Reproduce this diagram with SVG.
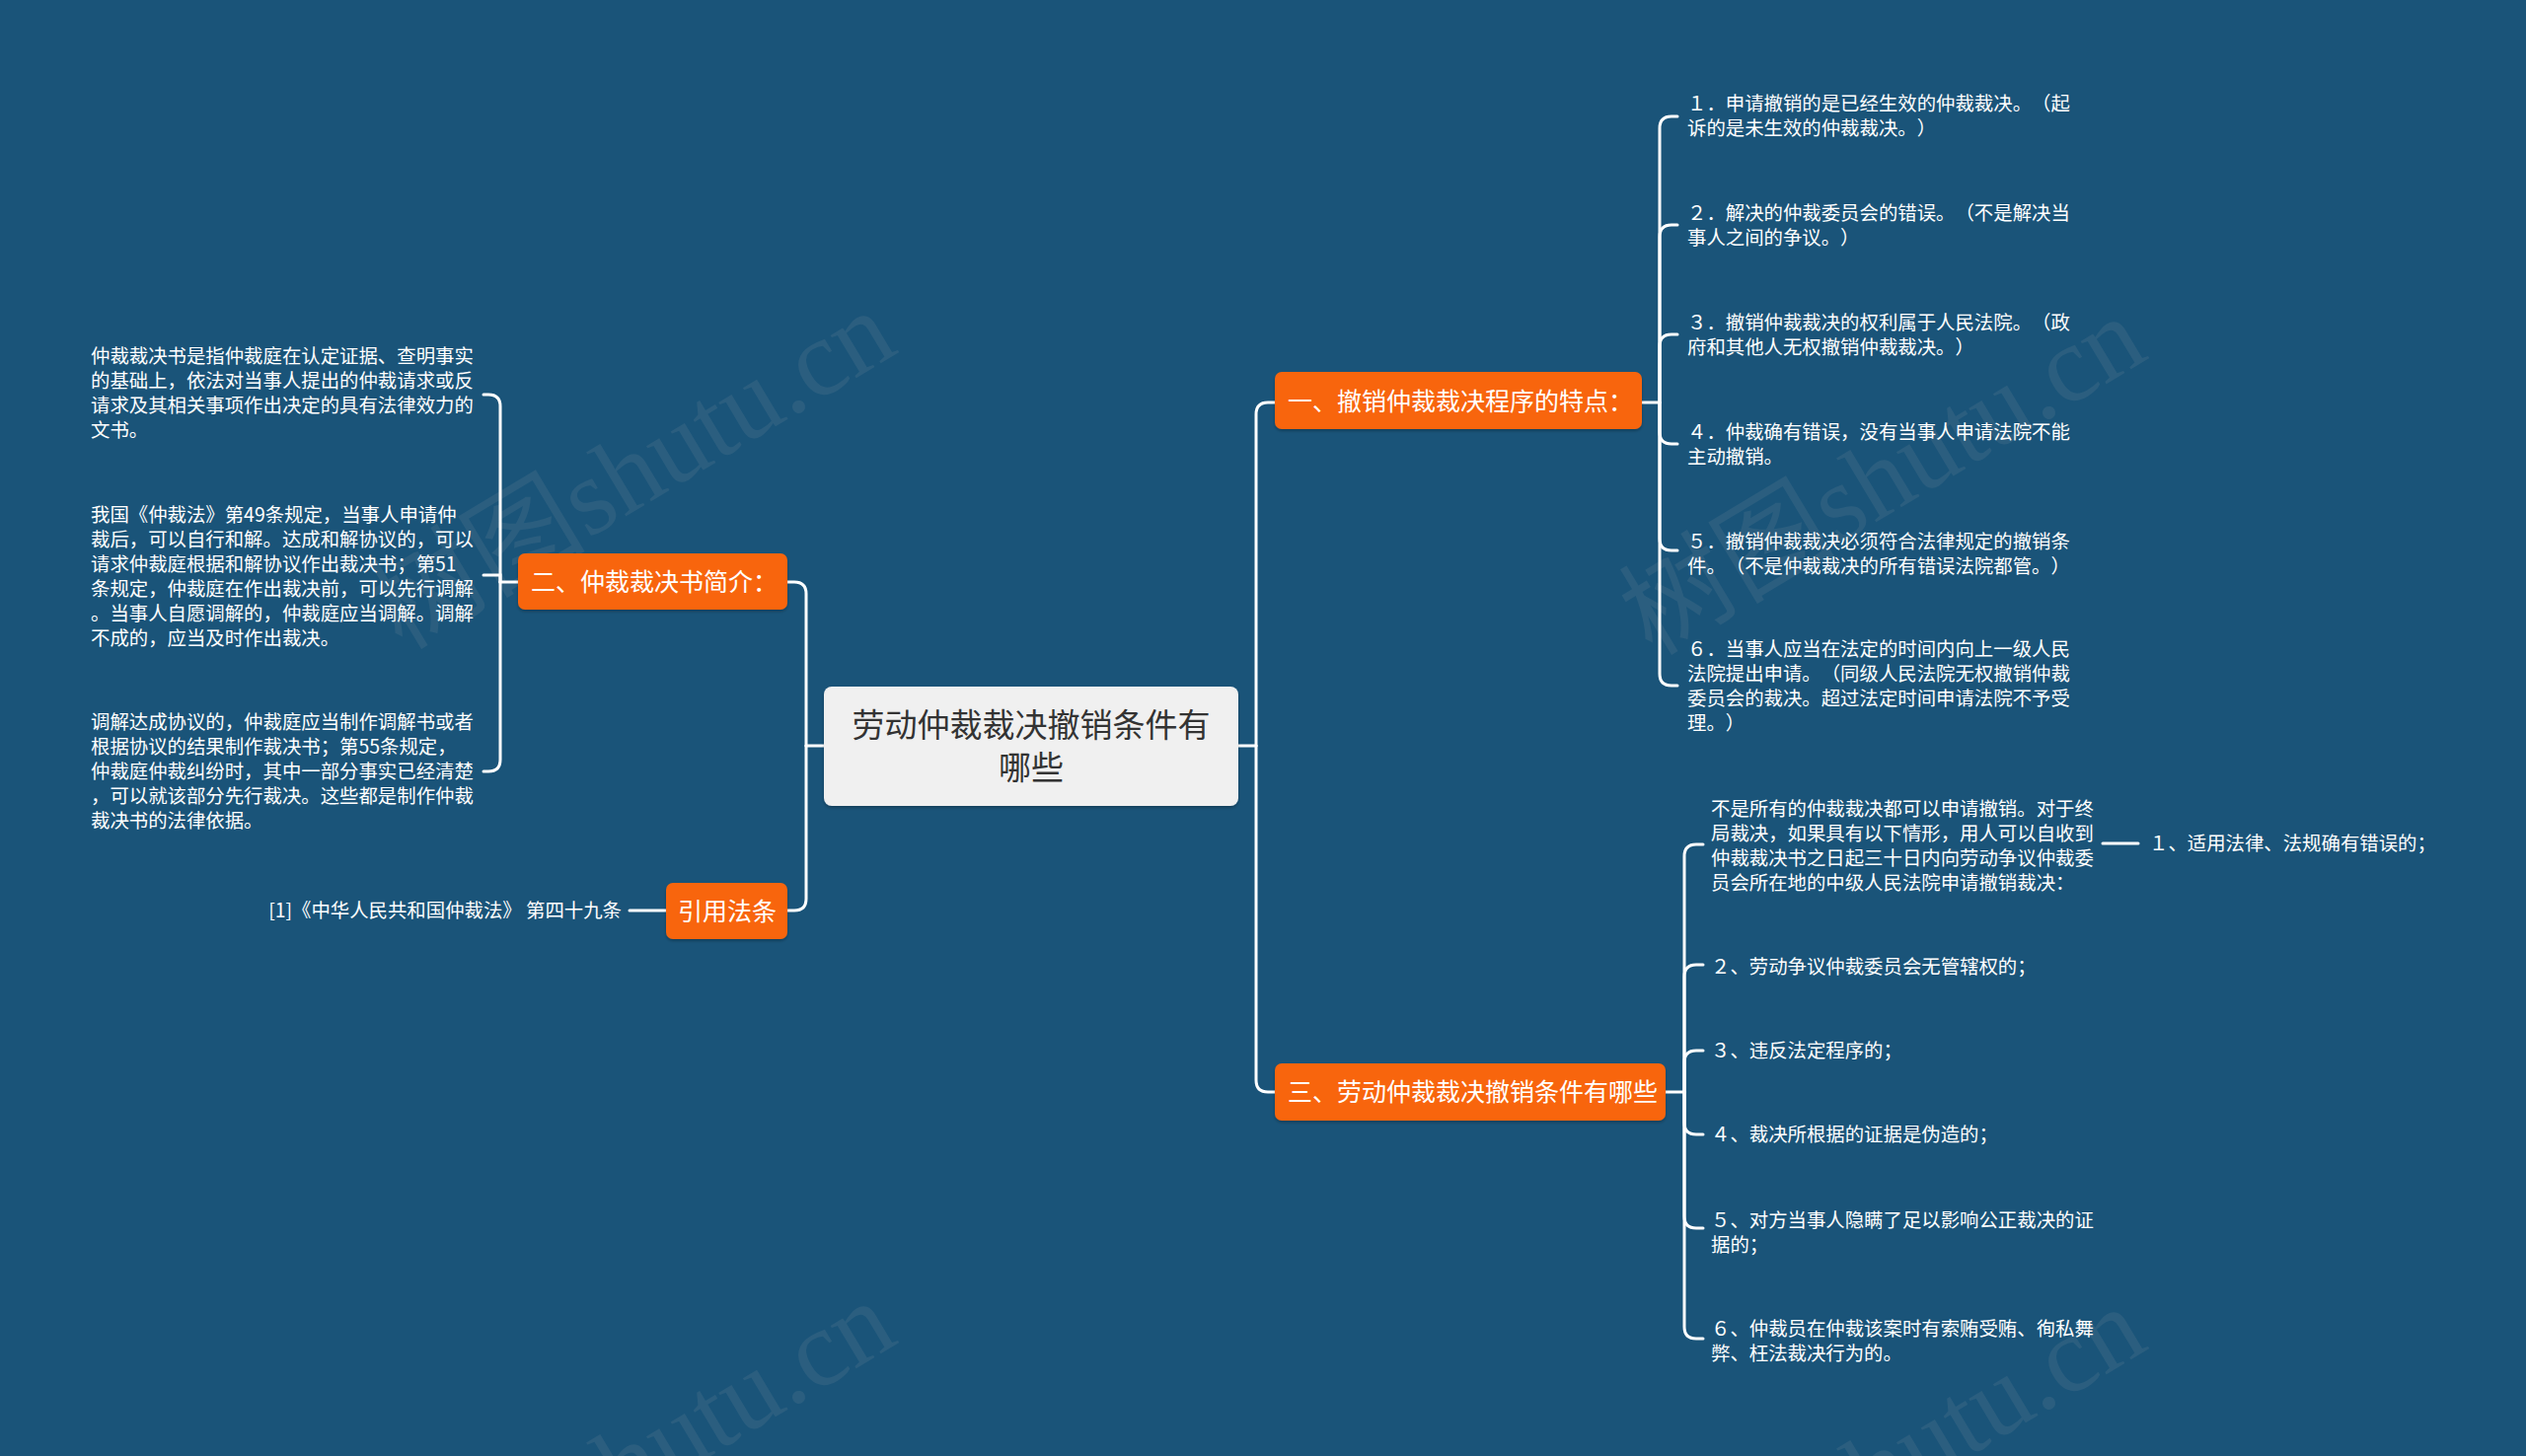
<svg xmlns="http://www.w3.org/2000/svg" width="2560" height="1476" viewBox="0 0 2560 1476">
<style>
text{text-spacing-trim:space-all}
.bg{fill:#1a5479}
.wm{font-family:"Liberation Serif","Noto Sans CJK SC",serif;font-size:110px;fill:#9aa3aa;opacity:0.13}
.ln{fill:none;stroke:#ffffff;stroke-width:3;stroke-linecap:round}
.box{fill:#f8650d}
.nt{font-family:"Noto Sans CJK SC","Noto Sans",sans-serif;font-size:25px;fill:#ffffff}
.ct{font-family:"Noto Sans CJK SC","Noto Sans",sans-serif;font-size:33px;fill:#333333;text-anchor:middle}
.lt{font-family:"Noto Sans CJK SC","Noto Sans",sans-serif;font-size:19.4px;fill:#ffffff}
</style>
<defs>
<filter id="sh" x="-10%" y="-10%" width="120%" height="130%">
<feDropShadow dx="0" dy="2" stdDeviation="1.5" flood-color="#000" flood-opacity="0.25"/>
</filter>
</defs>
<rect class="bg" x="0" y="0" width="2560" height="1476"/>
<g id="watermarks">
<text class="wm" transform="translate(660,508) rotate(-31)" text-anchor="middle">树图shutu.cn</text>
<text class="wm" transform="translate(1927,514) rotate(-31)" text-anchor="middle">树图shutu.cn</text>
<text class="wm" transform="translate(660,1512) rotate(-31)" text-anchor="middle">树图shutu.cn</text>
<text class="wm" transform="translate(1927,1518) rotate(-31)" text-anchor="middle">树图shutu.cn</text>
</g>
<g id="connectors">
<path class="ln" d="M1255,756 H1273"/>
<path class="ln" d="M1273,756 V420 Q1273,408 1285,408 H1292"/>
<path class="ln" d="M1273,756 V1095 Q1273,1107 1285,1107 H1292"/>
<path class="ln" d="M835,756 H817"/>
<path class="ln" d="M817,756 V602 Q817,590 805,590 H798"/>
<path class="ln" d="M817,756 V911 Q817,923 805,923 H798"/>
<path class="ln" d="M1664,408 H1682"/>
<path class="ln" d="M1682,408 V130 Q1682,118 1694,118 H1700"/>
<path class="ln" d="M1682,408 V240 Q1682,228 1694,228 H1700"/>
<path class="ln" d="M1682,408 V351 Q1682,339 1694,339 H1700"/>
<path class="ln" d="M1682,408 V438 Q1682,450 1694,450 H1700"/>
<path class="ln" d="M1682,408 V546 Q1682,558 1694,558 H1700"/>
<path class="ln" d="M1682,408 V683 Q1682,695 1694,695 H1700"/>
<path class="ln" d="M1688,1107 H1707"/>
<path class="ln" d="M1707,1107 V868 Q1707,856 1719,856 H1726"/>
<path class="ln" d="M1707,1107 V990 Q1707,978 1719,978 H1726"/>
<path class="ln" d="M1707,1107 V1077 Q1707,1065 1719,1065 H1726"/>
<path class="ln" d="M1707,1107 V1138 Q1707,1150 1719,1150 H1726"/>
<path class="ln" d="M1707,1107 V1233 Q1707,1245 1719,1245 H1726"/>
<path class="ln" d="M1707,1107 V1345 Q1707,1357 1719,1357 H1726"/>
<path class="ln" d="M2131,855 H2167"/>
<path class="ln" d="M525,590 H507"/>
<path class="ln" d="M507,590 V412 Q507,400 495,400 H490"/>
<path class="ln" d="M507,590 V583 H490"/>
<path class="ln" d="M507,590 V770 Q507,782 495,782 H490"/>
<path class="ln" d="M675,923 H638"/>
</g>
<g id="center">
<rect x="835" y="696" width="420" height="121" rx="8" fill="#f0f0f0" filter="url(#sh)"/>
<text class="ct" x="1045" y="747">劳动仲裁裁决撤销条件有</text>
<text class="ct" x="1045" y="790">哪些</text>
</g>
<g id="n1">
<rect class="box" x="1292" y="377" width="372" height="58" rx="7" filter="url(#sh)"/>
<text class="nt" x="1305" y="416">一、撤销仲裁裁决程序的特点：</text>
</g>
<g id="n3">
<rect class="box" x="1292" y="1078" width="396" height="58" rx="7" filter="url(#sh)"/>
<text class="nt" x="1305" y="1116">三、劳动仲裁裁决撤销条件有哪些</text>
</g>
<g id="n2">
<rect class="box" x="525" y="561" width="273" height="57" rx="7" filter="url(#sh)"/>
<text class="nt" x="538" y="599">二、仲裁裁决书简介：</text>
</g>
<g id="n4">
<rect class="box" x="675" y="895" width="123" height="57" rx="7" filter="url(#sh)"/>
<text class="nt" x="687" y="933">引用法条</text>
</g>
<g id="n1c1"><text class="lt" x="1710" y="112"><tspan x="1710">１．申请撤销的是已经生效的仲裁裁决。（起</tspan><tspan x="1710" dy="25">诉的是未生效的仲裁裁决。）</tspan></text></g>
<g id="n1c2"><text class="lt" x="1710" y="223"><tspan x="1710">２．解决的仲裁委员会的错误。（不是解决当</tspan><tspan x="1710" dy="25">事人之间的争议。）</tspan></text></g>
<g id="n1c3"><text class="lt" x="1710" y="334"><tspan x="1710">３．撤销仲裁裁决的权利属于人民法院。（政</tspan><tspan x="1710" dy="25">府和其他人无权撤销仲裁裁决。）</tspan></text></g>
<g id="n1c4"><text class="lt" x="1710" y="445"><tspan x="1710">４．仲裁确有错误，没有当事人申请法院不能</tspan><tspan x="1710" dy="25">主动撤销。</tspan></text></g>
<g id="n1c5"><text class="lt" x="1710" y="556"><tspan x="1710">５．撤销仲裁裁决必须符合法律规定的撤销条</tspan><tspan x="1710" dy="25">件。（不是仲裁裁决的所有错误法院都管。）</tspan></text></g>
<g id="n1c6"><text class="lt" x="1710" y="665"><tspan x="1710">６．当事人应当在法定的时间内向上一级人民</tspan><tspan x="1710" dy="25">法院提出申请。（同级人民法院无权撤销仲裁</tspan><tspan x="1710" dy="25">委员会的裁决。超过法定时间申请法院不予受</tspan><tspan x="1710" dy="25">理。）</tspan></text></g>
<g id="n3c1"><text class="lt" x="1734" y="827"><tspan x="1734">不是所有的仲裁裁决都可以申请撤销。对于终</tspan><tspan x="1734" dy="25">局裁决，如果具有以下情形，用人可以自收到</tspan><tspan x="1734" dy="25">仲裁裁决书之日起三十日内向劳动争议仲裁委</tspan><tspan x="1734" dy="25">员会所在地的中级人民法院申请撤销裁决：</tspan></text></g>
<g id="n3c1a"><text class="lt" x="2178" y="862">１、适用法律、法规确有错误的；</text></g>
<g id="n3c2"><text class="lt" x="1734" y="987">２、劳动争议仲裁委员会无管辖权的；</text></g>
<g id="n3c3"><text class="lt" x="1734" y="1072">３、违反法定程序的；</text></g>
<g id="n3c4"><text class="lt" x="1734" y="1157">４、裁决所根据的证据是伪造的；</text></g>
<g id="n3c5"><text class="lt" x="1734" y="1244"><tspan x="1734">５、对方当事人隐瞒了足以影响公正裁决的证</tspan><tspan x="1734" dy="25">据的；</tspan></text></g>
<g id="n3c6"><text class="lt" x="1734" y="1354"><tspan x="1734">６、仲裁员在仲裁该案时有索贿受贿、徇私舞</tspan><tspan x="1734" dy="25">弊、枉法裁决行为的。</tspan></text></g>
<g id="n2c1"><text class="lt" x="92" y="368"><tspan x="92">仲裁裁决书是指仲裁庭在认定证据、查明事实</tspan><tspan x="92" dy="25">的基础上，依法对当事人提出的仲裁请求或反</tspan><tspan x="92" dy="25">请求及其相关事项作出决定的具有法律效力的</tspan><tspan x="92" dy="25">文书。</tspan></text></g>
<g id="n2c2"><text class="lt" x="92" y="529"><tspan x="92">我国《仲裁法》第49条规定，当事人申请仲</tspan><tspan x="92" dy="25">裁后，可以自行和解。达成和解协议的，可以</tspan><tspan x="92" dy="25">请求仲裁庭根据和解协议作出裁决书；第51</tspan><tspan x="92" dy="25">条规定，仲裁庭在作出裁决前，可以先行调解</tspan><tspan x="92" dy="25">。当事人自愿调解的，仲裁庭应当调解。调解</tspan><tspan x="92" dy="25">不成的，应当及时作出裁决。</tspan></text></g>
<g id="n2c3"><text class="lt" x="92" y="739"><tspan x="92">调解达成协议的，仲裁庭应当制作调解书或者</tspan><tspan x="92" dy="25">根据协议的结果制作裁决书；第55条规定，</tspan><tspan x="92" dy="25">仲裁庭仲裁纠纷时，其中一部分事实已经清楚</tspan><tspan x="92" dy="25">，可以就该部分先行裁决。这些都是制作仲裁</tspan><tspan x="92" dy="25">裁决书的法律依据。</tspan></text></g>
<g id="n4c1"><text class="lt" x="630" y="930" text-anchor="end">[1]《中华人民共和国仲裁法》 第四十九条</text></g>
</svg>
